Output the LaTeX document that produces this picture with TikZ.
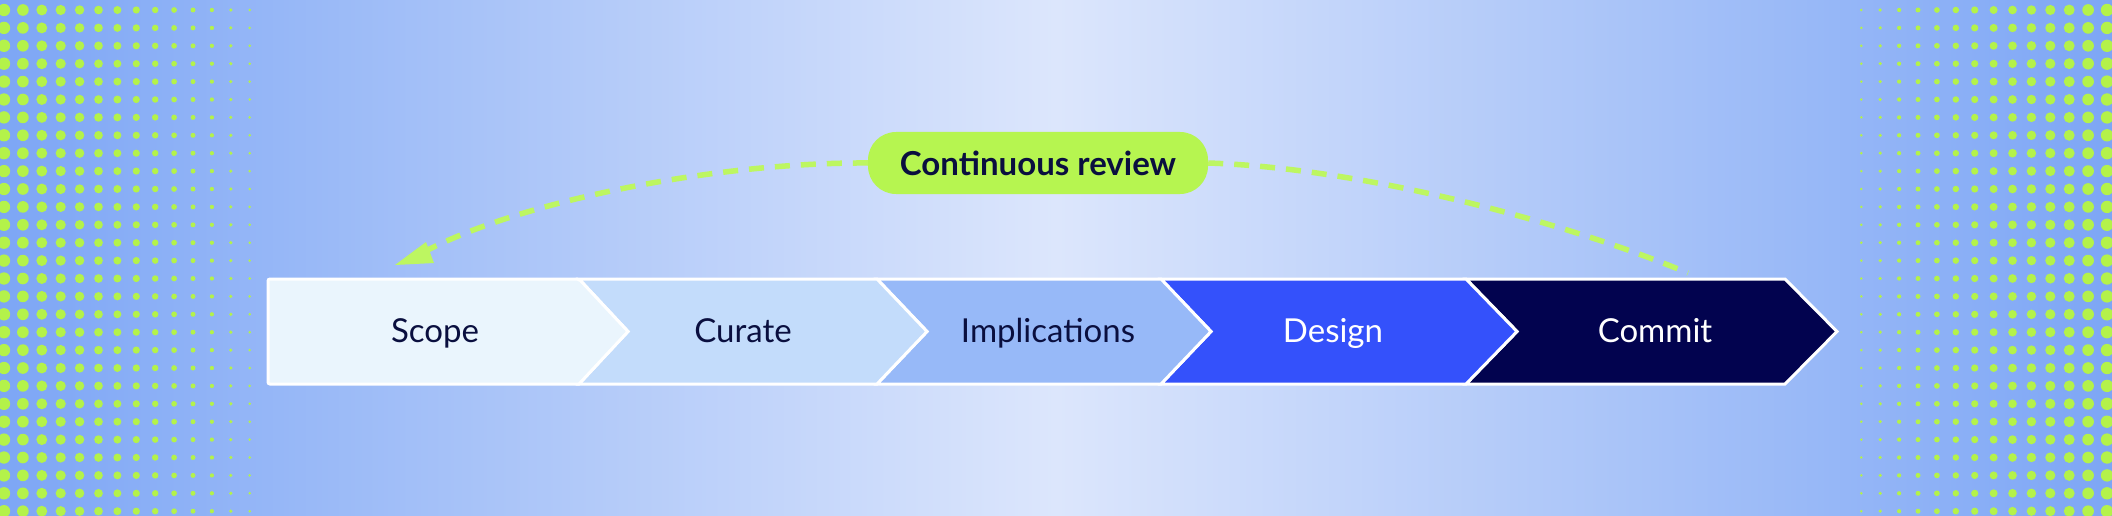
\documentclass[tikz,border=0pt]{standalone}
\usepackage{fontspec}
\setmainfont{Lato}
\usetikzlibrary{arrows.meta}
\definecolor{bgout}{HTML}{7DA6F5}
\definecolor{bgin}{HTML}{DCE6FC}
\definecolor{lime}{HTML}{B6F550}
\definecolor{dots}{HTML}{B4F24A}
\definecolor{ink}{HTML}{0A0F3F}
\definecolor{cA}{HTML}{EAF5FD}
\definecolor{cB}{HTML}{C3DCFB}
\definecolor{cC}{HTML}{97B9F8}
\definecolor{cD}{HTML}{3451FB}
\definecolor{cE}{HTML}{02034F}
\begin{document}
\begin{tikzpicture}[x=1pt,y=-1pt,
  chev/.style={draw=white,line width=3pt,line join=miter},
  lbl/.style={font=\fontsize{33}{38}\selectfont,text=ink,inner sep=0pt,anchor=base},
  link/.style={draw=lime!90!white,line width=5.5pt,dash pattern=on 15pt off 11pt}]
\useasboundingbox (0,0) rectangle (2112,516);
\shade[left color=bgout,right color=bgout,middle color=bgin] (0,0) rectangle (2112,516);
% dots
\foreach \i in {0,...,13}{
  \pgfmathsetmacro\r{6.2-\i*0.37}
  \foreach \j in {0,...,28}{
    \fill[dots] (4+\i*18.9,10+\j*17.9) circle (\r);
    \fill[dots] (2107-\i*18.9,10+\j*17.9) circle (\r);
  }}
% chevrons
\def\T{279}\def\B{384}\def\M{331.5}
\draw[chev,fill=cE] (1466,\T) -- (1785,\T) -- (1837,\M) -- (1785,\B) -- (1466,\B) -- (1517,\M) -- cycle;
\draw[chev,fill=cD] (1161,\T) -- (1466,\T) -- (1517,\M) -- (1466,\B) -- (1161,\B) -- (1211,\M) -- cycle;
\draw[chev,fill=cC] (877,\T) -- (1161,\T) -- (1211,\M) -- (1161,\B) -- (877,\B) -- (927,\M) -- cycle;
\draw[chev,fill=cB] (579,\T) -- (877,\T) -- (927,\M) -- (877,\B) -- (579,\B) -- (628,\M) -- cycle;
\draw[chev,fill=cA,rounded corners=2pt] (268,\T) -- (579,\T) [sharp corners] -- (628,\M) -- (579,\B) [rounded corners=2pt] -- (268,\B) -- cycle;
\node[lbl] (scope) at (435,342) {Scope};
\node[lbl] (curate) at (743,342) {Curate};
\node[lbl] (impl) at (1048,342) {Implications};
\node[lbl,text=white] (design) at (1333,342) {Design};
\node[lbl,text=white] (commit) at (1655,342) {Commit};
% pill
\node[fill=lime,rounded corners=28pt,minimum width=340pt,minimum height=62pt,font=\bfseries\fontsize{33}{38}\selectfont,text=ink] (rev) at (1038,163) {Continuous review};
\coordinate (tipL) at (395,265);
\coordinate (endR) at (1688,273);
\draw[link] (rev.west) .. controls (720,162) and (520,200) .. (420,254);
\fill[lime!90!white] (tipL) -- (426,242) -- (434,263) -- cycle;
\draw[link] (rev.east) .. controls (1360,168) and (1560,220) .. (endR);
\end{tikzpicture}
\end{document}
